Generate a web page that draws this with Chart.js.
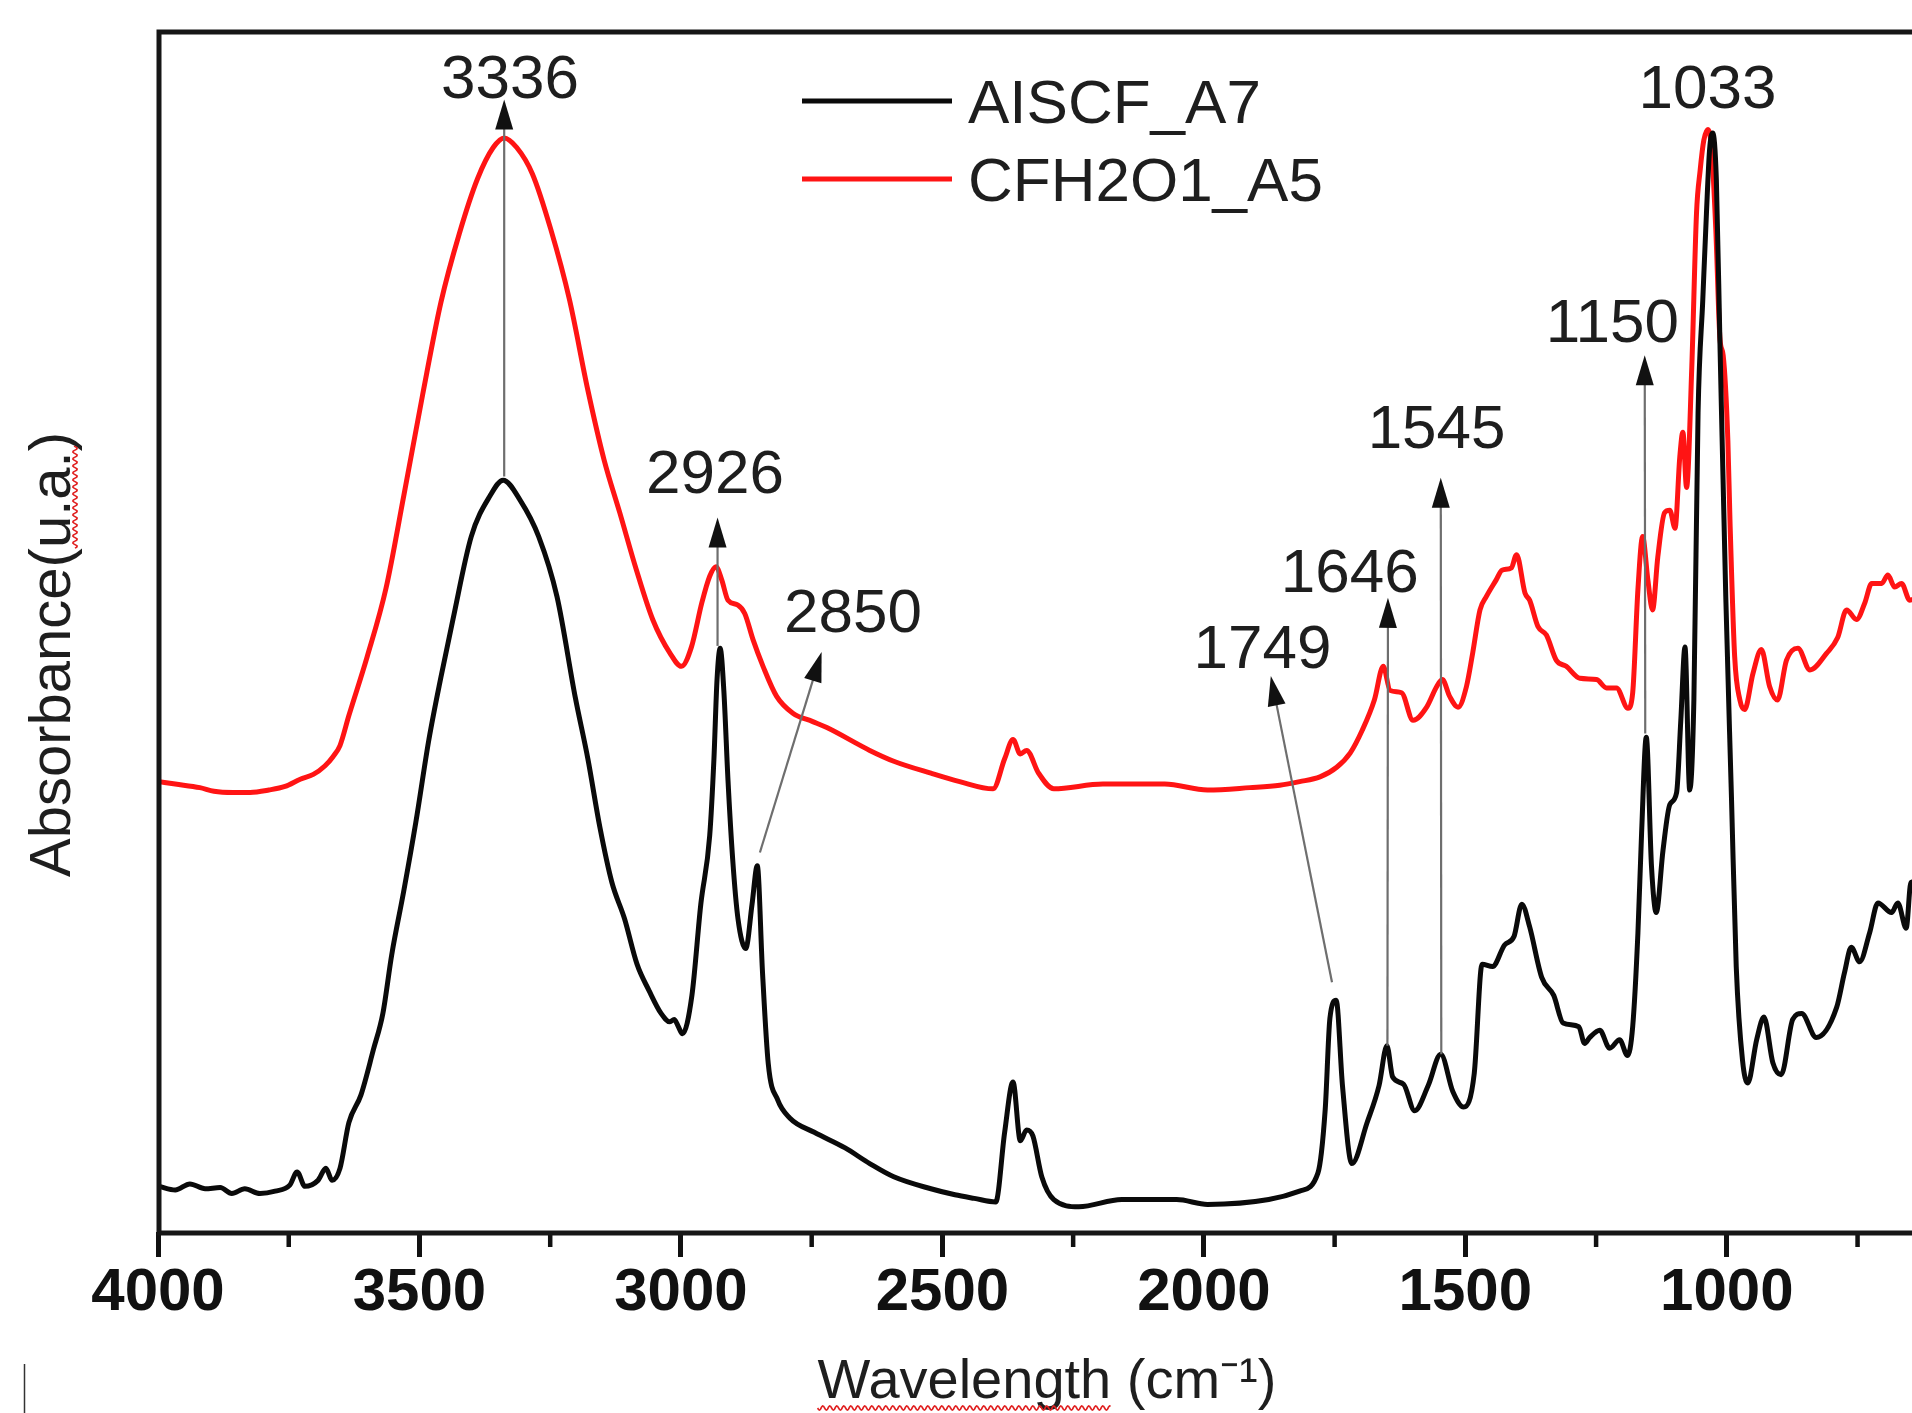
<!DOCTYPE html>
<html>
<head>
<meta charset="utf-8">
<script src="https://cdn.jsdelivr.net/npm/chart.js@4.4.1/dist/chart.umd.min.js"></script>
<style>
html,body{margin:0;padding:0;background:#fff;overflow:hidden;width:1912px;height:1413px}
canvas{display:block}
</style>
</head>
<body>
<canvas id="c" width="1960" height="1413" style="width:1960px;height:1413px"></canvas>
<script>
// ---------------- data ----------------
const seriesNames = ['AISCF_A7', 'CFH2O1_A5'];
const seriesColors = ['#0a0a0a', '#ff1414'];

const blackWavenumber = [3998,3967,3939,3910,3881,3859,3834,3805,3776,3748,3734,3719,3694,3679,3667,3652,3635,3612,3588,3570,3553,3530,3507,3482,3459,3436,3401,3365,3340,3307,3272,3237,3202,3178,3155,3132,3108,3084,3061,3038,3021,3013,3006,2997,2979,2962,2945,2937,2931,2925,2918,2910,2901,2891,2876,2864,2854,2844,2833,2815,2792,2745,2686,2639,2593,2522,2476,2439,2398,2381,2365,2351,2339,2327,2310,2287,2239,2157,2052,1993,1876,1817,1782,1768,1759,1747,1735,1717,1688,1665,1650,1639,1618,1597,1571,1547,1524,1503,1483,1468,1448,1425,1407,1392,1377,1354,1331,1313,1283,1272,1262,1243,1224,1205,1190,1180,1170,1163,1154,1144,1135,1122,1109,1096,1088,1080,1071,1063,1055,1046,1039,1033,1027,1020,1013,1002,991,982,970,960,943,929,912,896,874,857,829,790,775,762,746,727,711,685,673,657,648,621,600];
const blackAbsorbance = [3.8,3.5,4.0,3.6,3.7,3.2,3.6,3.2,3.4,3.9,5.0,3.8,4.3,5.3,4.3,5.3,9.1,11.4,15.2,18.2,23.1,28.4,34.1,41.0,46.2,51.0,57.9,61.3,62.6,60.9,57.9,52.9,44.5,39.4,33.7,29.1,26.1,22.3,20.1,18.2,17.5,17.7,17.2,16.5,19.7,27.3,33.0,39.3,46.0,48.6,45.1,37.6,31.0,26.1,23.6,27.3,30.5,21.6,14.0,11.0,9.5,8.3,7.0,5.7,4.6,3.6,3.1,2.8,2.5,8.3,12.5,7.6,8.5,8.0,4.6,2.7,2.1,2.7,2.7,2.3,2.7,3.4,4.9,10.2,17.8,19.3,12.2,5.7,9.1,12.2,15.5,12.9,12.3,10.1,12.2,14.8,11.7,10.4,13.2,22.3,22.1,23.9,24.6,27.3,25.4,21.2,19.7,17.4,17.1,15.7,16.2,16.8,15.3,16.0,14.7,17.1,24.9,33.2,41.2,30.4,26.6,31.8,35.6,36.6,42.6,48.7,36.8,44.3,68.2,77.6,84.8,90.1,91.5,87.6,73.7,52.9,36.0,22.1,14.3,12.4,16.0,17.9,14.1,13.1,17.7,18.2,16.2,18.7,21.6,23.7,22.5,24.9,27.4,26.6,27.4,25.3,29.1,29.3,29.7];

const redWavenumber = [3998,3967,3920,3893,3857,3824,3788,3757,3728,3703,3681,3665,3652,3635,3600,3564,3530,3494,3459,3424,3389,3359,3338,3314,3284,3249,3213,3178,3147,3117,3085,3054,3021,2999,2980,2960,2945,2933,2922,2910,2891,2878,2862,2843,2817,2786,2748,2721,2639,2593,2522,2467,2403,2381,2365,2351,2339,2316,2287,2193,2075,1993,1912,1855,1817,1778,1746,1720,1697,1674,1657,1644,1622,1600,1574,1555,1544,1530,1514,1498,1486,1472,1460,1441,1430,1412,1402,1386,1377,1361,1345,1326,1307,1281,1249,1230,1211,1189,1180,1170,1161,1151,1142,1132,1119,1109,1099,1090,1084,1077,1067,1058,1051,1044,1036,1029,1021,1013,1007,998,994,985,975,966,950,934,918,903,886,864,841,809,788,771,752,736,723,704,692,679,666,650,625,600];
const redAbsorbance = [37.5,37.3,37.0,36.7,36.6,36.6,36.8,37.1,37.7,38.1,38.8,39.6,40.5,43.0,47.9,53.6,61.3,69.7,77.4,83.1,87.7,90.3,91.1,90.3,88.1,83.5,77.6,70.1,64.3,59.9,55.1,51.0,48.2,47.1,48.7,52.4,54.6,55.4,54.3,52.6,52.2,51.5,49.3,47.1,44.6,43.2,42.5,42.0,40.1,39.2,38.2,37.5,36.9,39.4,41.0,39.8,40.1,38.2,36.9,37.3,37.3,36.8,37.0,37.2,37.5,37.9,38.7,39.9,41.8,44.3,47.1,45.1,44.9,42.6,43.7,45.4,46.0,44.6,43.7,45.4,48.2,51.8,52.9,54.3,55.1,55.3,56.4,53.2,52.6,50.4,49.7,47.6,47.1,46.1,46.0,45.3,45.3,43.6,44.9,53.5,57.9,54.3,51.8,56.2,59.9,60.1,58.6,64.5,66.6,62.0,72.0,84.8,88.4,90.9,91.8,90.1,83.4,74.3,73.0,65.9,59.3,47.9,44.3,43.5,46.5,48.5,45.4,44.3,47.6,48.6,46.8,48.2,49.5,51.8,51.0,52.4,54.0,54.0,54.7,53.7,54.0,52.6,53.3,53.9];

const xTickValues = [4000, 3500, 3000, 2500, 2000, 1500, 1000];
const xMinorTickValues = [3750, 3250, 2750, 2250, 1750, 1250, 750];

const peakLabels = ['3336', '2926', '2850', '1749', '1646', '1545', '1150', '1033'];
const peakLabelWavenumber = [3327, 2935, 2671, 1888, 1721, 1555, 1219, 1037];
const peakLabelAbsorbance = [94.4, 61.5, 50.0, 47.0, 53.3, 65.3, 74.1, 93.6];
const arrowFromWavenumber = [3338, 2930, 2849, 1755, 1649, 1546, 1156, null];
const arrowFromAbsorbance = [62.9, 48.8, 31.6, 20.8, 15.5, 14.8, 41.5, null];
const arrowToWavenumber = [3338, 2930, 2731, 1872, 1648, 1547, 1157, null];
const arrowToAbsorbance = [94.3, 59.5, 48.3, 46.3, 52.8, 62.8, 73.0, null];

const xTitle = 'Wavelength (cm\u207B\u00B9)';
const yTitle = 'Absorbance(u.a.)';

// ---------------- chart ----------------
const FONT = '"Liberation Sans", Arial, Helvetica, sans-serif';
const toPoints = (xs, ys) => xs.map((x, i) => ({ x: x, y: ys[i] }));

function wavy(ctx, x0, x1, y, amp, period) {
  ctx.beginPath();
  for (let x = x0; x <= x1; x += 1) {
    const yy = y + amp * Math.sin((x - x0) / period * 2 * Math.PI);
    if (x === x0) ctx.moveTo(x, yy); else ctx.lineTo(x, yy);
  }
  ctx.stroke();
}

const decor = {
  id: 'decor',
  afterDraw(chart) {
    const { ctx, chartArea: ca, scales } = chart;
    const x = scales.x, y = scales.y;
    ctx.save();

    // minor ticks
    ctx.strokeStyle = '#111';
    ctx.lineWidth = 4.5;
    xMinorTickValues.forEach(v => {
      const px = x.getPixelForValue(v);
      ctx.beginPath();
      ctx.moveTo(px, ca.bottom);
      ctx.lineTo(px, ca.bottom + 15);
      ctx.stroke();
    });

    // frame
    ctx.lineWidth = 5;
    ctx.strokeStyle = '#161616';
    ctx.strokeRect(ca.left + 1, ca.top + 1, ca.right - ca.left, ca.bottom - ca.top);

    // arrows
    for (let i = 0; i < peakLabels.length; i++) {
      if (arrowFromWavenumber[i] == null) continue;
      const x0 = x.getPixelForValue(arrowFromWavenumber[i]);
      const y0 = y.getPixelForValue(arrowFromAbsorbance[i]);
      const x1 = x.getPixelForValue(arrowToWavenumber[i]);
      const y1 = y.getPixelForValue(arrowToAbsorbance[i]);
      const dx = x1 - x0, dy = y1 - y0;
      const len = Math.hypot(dx, dy);
      const ux = dx / len, uy = dy / len;
      const hl = 30, hw = 9;
      const bx = x1 - ux * hl, by = y1 - uy * hl;
      ctx.strokeStyle = '#6e6e6e';
      ctx.lineWidth = 2.2;
      ctx.beginPath();
      ctx.moveTo(x0, y0);
      ctx.lineTo(bx + ux * 2, by + uy * 2);
      ctx.stroke();
      ctx.fillStyle = '#111';
      ctx.beginPath();
      ctx.moveTo(x1, y1);
      ctx.lineTo(bx - uy * hw, by + ux * hw);
      ctx.lineTo(bx + uy * hw, by - ux * hw);
      ctx.closePath();
      ctx.fill();
    }

    // peak labels
    ctx.fillStyle = '#1e1e1e';
    ctx.font = '62px ' + FONT;
    ctx.textAlign = 'center';
    ctx.textBaseline = 'alphabetic';
    for (let i = 0; i < peakLabels.length; i++) {
      ctx.fillText(peakLabels[i], x.getPixelForValue(peakLabelWavenumber[i]), y.getPixelForValue(peakLabelAbsorbance[i]));
    }

    // legend
    const lx = ca.left + 644, ly = ca.top + 70;
    chart.data.datasets.forEach((ds, i) => {
      const yy = ly + i * 78;
      ctx.strokeStyle = ds.borderColor;
      ctx.lineWidth = 5;
      ctx.beginPath();
      ctx.moveTo(lx, yy);
      ctx.lineTo(lx + 150, yy);
      ctx.stroke();
      ctx.fillStyle = '#1e1e1e';
      ctx.font = '62px ' + FONT;
      ctx.textAlign = 'left';
      ctx.fillText(ds.label, lx + 166, yy + 22);
    });

    // y title (rotated)
    ctx.save();
    ctx.translate(70, (ca.top + ca.bottom) / 2 + 23);
    ctx.rotate(-Math.PI / 2);
    ctx.font = '58px ' + FONT;
    ctx.fillStyle = '#1e1e1e';
    ctx.textAlign = 'center';
    ctx.fillText(yTitle, 0, 0);
    const full = ctx.measureText(yTitle).width;
    const pre = ctx.measureText('Absorbance(').width;
    const mid = ctx.measureText('u.a.').width;
    ctx.strokeStyle = '#e02020';
    ctx.lineWidth = 1.6;
    wavy(ctx, -full / 2 + pre, -full / 2 + pre + mid + 6, 5, 2.2, 7);
    ctx.restore();

    // spell-check underline under x title word
    ctx.font = '56px ' + FONT;
    const tw = ctx.measureText(xTitle).width;
    const ww = ctx.measureText('Wavelength').width;
    const cx = (ca.left + ca.right) / 2;
    ctx.strokeStyle = '#e02020';
    ctx.lineWidth = 1.6;
    wavy(ctx, cx - tw / 2, cx - tw / 2 + ww, 1408, 2.2, 7);

    // stray text cursor mark at bottom-left
    ctx.strokeStyle = '#333';
    ctx.lineWidth = 1.5;
    ctx.beginPath();
    ctx.moveTo(24.5, 1364);
    ctx.lineTo(24.5, 1413);
    ctx.stroke();

    ctx.restore();
  }
};

new Chart(document.getElementById('c').getContext('2d'), {
  type: 'line',
  data: {
    datasets: [
      { label: seriesNames[0], data: toPoints(blackWavenumber, blackAbsorbance), borderColor: seriesColors[0], backgroundColor: seriesColors[0], borderWidth: 5, pointRadius: 0, cubicInterpolationMode: 'monotone', fill: false },
      { label: seriesNames[1], data: toPoints(redWavenumber, redAbsorbance), borderColor: seriesColors[1], backgroundColor: seriesColors[1], borderWidth: 5, pointRadius: 0, cubicInterpolationMode: 'monotone', fill: false }
    ]
  },
  options: {
    responsive: false,
    animation: false,
    devicePixelRatio: 1,
    layout: { padding: { left: 158, top: 31, right: 24, bottom: 0 } },
    plugins: { legend: { display: false }, tooltip: { enabled: false } },
    scales: {
      x: {
        type: 'linear', min: 600, max: 4000, reverse: true,
        afterBuildTicks: s => { s.ticks = xTickValues.map(v => ({ value: v })); },
        afterFit: s => { s.height = 181; },
        ticks: { color: '#111', font: { family: FONT, size: 60, weight: 'bold' }, padding: 0, maxRotation: 0, autoSkip: false, callback: v => String(v) },
        grid: { display: true, drawOnChartArea: false, drawTicks: true, tickLength: 25, tickWidth: 5, tickColor: '#111', color: '#111' },
        border: { display: false },
        title: { display: true, text: xTitle, color: '#1e1e1e', font: { family: FONT, size: 56, lineHeight: 1 }, padding: { top: 0, bottom: 2 } }
      },
      y: { display: false, min: 0, max: 100 }
    }
  },
  plugins: [decor]
});
</script>
</body>
</html>
